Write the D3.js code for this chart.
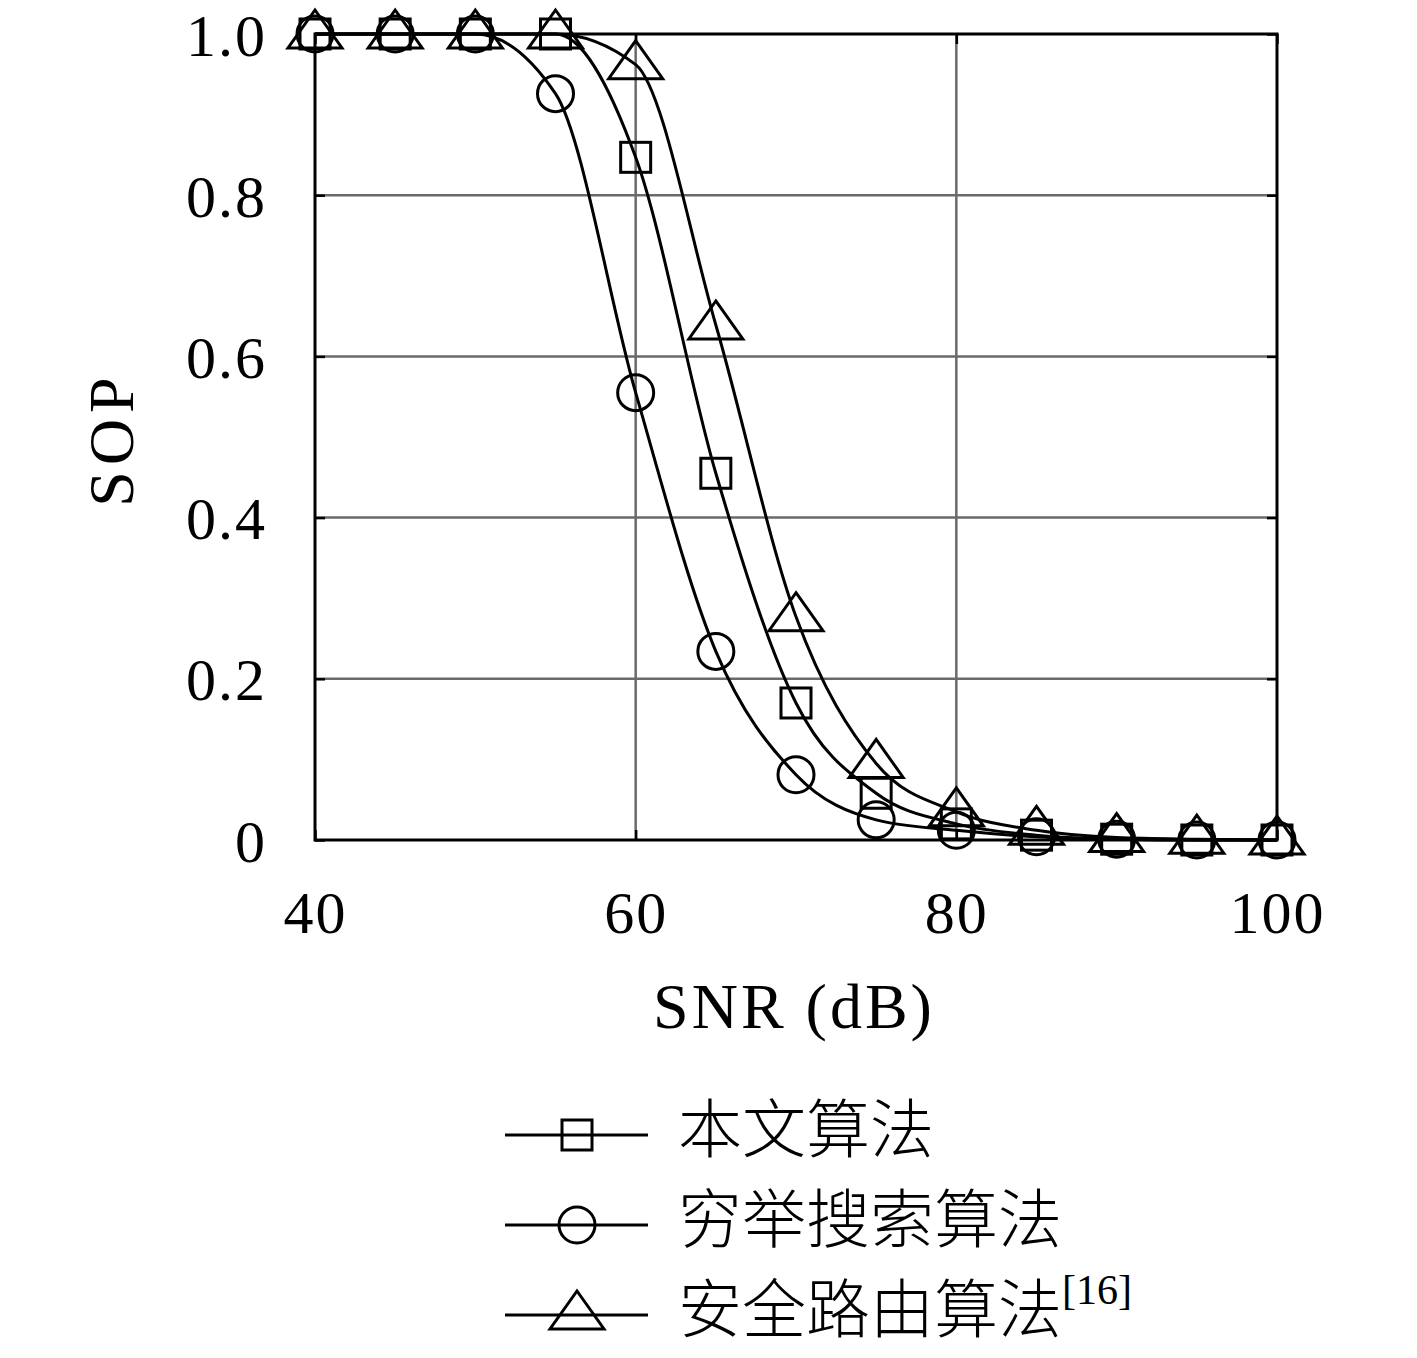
<!DOCTYPE html>
<html>
<head>
<meta charset="utf-8">
<script src="https://cdn.jsdelivr.net/npm/d3@7"></script>
<style>
  body { margin: 0; background: #fff; }
  svg text { fill: #000; }
</style>
</head>
<body>
<div id="chart"></div>
<script>
const snr = [40, 45, 50, 55, 60, 65, 70, 75, 80, 85, 90, 95, 100];
const sopProposed = [1, 1, 1, 1, 0.847, 0.455, 0.170, 0.058, 0.020, 0.006, 0.001, 0, 0];
const sopExhaustive = [1, 1, 1, 0.926, 0.555, 0.234, 0.081, 0.025, 0.012, 0.004, 0.001, 0, 0];
const sopSecureRoute = [1, 1, 1, 1, 0.962, 0.639, 0.277, 0.095, 0.035, 0.012, 0.003, 0.001, 0];
const xTicks = [40, 60, 80, 100];
const yTicks = [0, 0.2, 0.4, 0.6, 0.8, 1.0];
const legendLabels = ['本文算法', '穷举搜索算法', '安全路由算法'];

const W = 1417, H = 1358;
const margin = { top: 34, right: 140, bottom: 518, left: 315 };
const plotW = W - margin.left - margin.right;
const plotH = H - margin.top - margin.bottom;

const x = d3.scaleLinear().domain([40, 100]).range([0, plotW]);
const y = d3.scaleLinear().domain([0, 1]).range([plotH, 0]);

const svg = d3.select('#chart').append('svg')
    .attr('width', W).attr('height', H);

const g = svg.append('g')
    .attr('transform', `translate(${margin.left},${margin.top})`);

const serif = '"Liberation Serif", "DejaVu Serif", serif';

// grid
g.append('g').selectAll('line').data(xTicks.slice(1, -1)).enter()
    .append('line')
    .attr('x1', d => x(d)).attr('x2', d => x(d))
    .attr('y1', 0).attr('y2', plotH)
    .attr('stroke', '#6a6a6a').attr('stroke-width', 2.5);
g.append('g').selectAll('line').data(yTicks.slice(1, -1)).enter()
    .append('line')
    .attr('x1', 0).attr('x2', plotW)
    .attr('y1', d => y(d)).attr('y2', d => y(d))
    .attr('stroke', '#6a6a6a').attr('stroke-width', 2.5);

// axes (ticks inward, labels outside)
const xAxis = g.append('g')
    .attr('transform', `translate(0,${plotH})`)
    .call(d3.axisBottom(x).tickValues(xTicks).tickSize(-10).tickPadding(72).tickFormat(d3.format('d')));
const yAxis = g.append('g')
    .call(d3.axisLeft(y).tickValues(yTicks).tickSize(-10).tickPadding(48)
        .tickFormat(d => d === 0 ? '0' : d3.format('.1f')(d)));
g.append('g').attr('transform', `translate(${plotW},0)`)
    .call(d3.axisRight(y).tickValues(yTicks).tickSize(-10).tickFormat(''));
g.append('g')
    .call(d3.axisTop(x).tickValues(xTicks).tickSize(-10).tickFormat(''));

g.selectAll('.domain').remove();
g.selectAll('.tick line').attr('stroke', '#000').attr('stroke-width', 2.5);
[xAxis, yAxis].forEach(a => a.selectAll('text')
    .style('font-family', serif).style('font-size', '60px').style('letter-spacing', '2px'));
xAxis.selectAll('text').attr('dy', '0.35em');
yAxis.selectAll('text').attr('dy', '0.35em');

// frame
g.append('rect')
    .attr('width', plotW).attr('height', plotH)
    .attr('fill', 'none').attr('stroke', '#000').attr('stroke-width', 3);

// axis titles
svg.append('text')
    .attr('x', margin.left + plotW / 2 - 2).attr('y', 1013)
    .attr('text-anchor', 'middle').attr('dominant-baseline', 'middle')
    .style('font-family', serif).style('font-size', '64px').style('letter-spacing', '3px')
    .text('SNR (dB)');
svg.append('text')
    .attr('transform', `translate(118,${margin.top + plotH / 2 + 2}) rotate(-90)`)
    .attr('text-anchor', 'middle').attr('dominant-baseline', 'middle')
    .style('font-family', serif).style('font-size', '64px').style('letter-spacing', '6px')
    .text('SOP');

// markers
const symbolSquare = (sel) => sel.append('rect')
    .attr('x', -15).attr('y', -15).attr('width', 30).attr('height', 30);
const symbolCircle = (sel) => sel.append('circle').attr('r', 18);
const symbolTriangle = (sel) => sel.append('path').attr('d', 'M0,-24L27,14L-27,14Z');

const series = [
    { values: sopProposed, marker: symbolSquare },
    { values: sopExhaustive, marker: symbolCircle },
    { values: sopSecureRoute, marker: symbolTriangle }
];

const line = d3.line()
    .x(d => x(d[0])).y(d => y(d[1]))
    .curve(d3.curveMonotoneX);

series.forEach(s => {
    const pts = snr.map((v, i) => [v, s.values[i]]);
    g.append('path')
        .datum(pts)
        .attr('d', line)
        .attr('fill', 'none').attr('stroke', '#000').attr('stroke-width', 3);
    g.append('g').selectAll('g').data(pts).enter()
        .append('g')
        .attr('transform', d => `translate(${x(d[0])},${y(d[1])})`)
        .call(s.marker)
        .selectAll('*')
        .attr('fill', 'none').attr('stroke', '#000').attr('stroke-width', 3);
});

// legend
const legend = svg.append('g').attr('transform', 'translate(505,1135)');
const rows = legend.selectAll('g').data(series).enter()
    .append('g')
    .attr('transform', (d, i) => `translate(0,${i * 90})`);
rows.append('line')
    .attr('x1', 0).attr('x2', 143).attr('y1', 0).attr('y2', 0)
    .attr('stroke', '#000').attr('stroke-width', 3);
rows.append('g')
    .attr('transform', 'translate(72,0)')
    .each(function (d) { d.marker(d3.select(this)); })
    .selectAll('*')
    .attr('fill', 'none').attr('stroke', '#000').attr('stroke-width', 3);
const labels = rows.append('text')
    .attr('x', 173).attr('y', 0)
    .attr('dominant-baseline', 'middle')
    .style('font-family', '"Noto Sans CJK SC", sans-serif')
    .style('font-size', '64px').style('font-weight', 300)
    .text((d, i) => legendLabels[i]);
labels.filter((d, i) => i === 2)
    .append('tspan')
    .attr('dy', '-0.5em')
    .style('font-family', serif).style('font-size', '42px')
    .text('[16]');
</script>
</body>
</html>
